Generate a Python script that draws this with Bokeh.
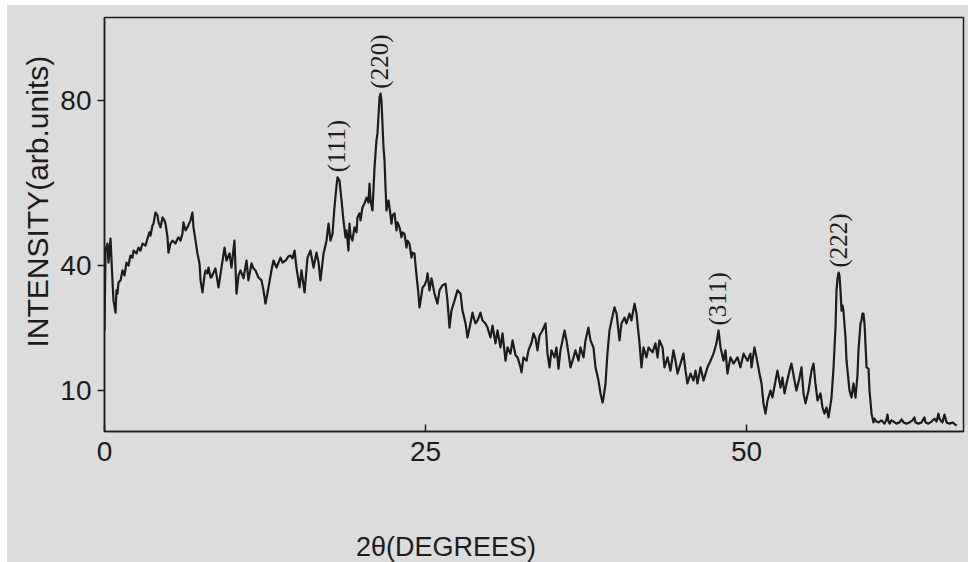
from math import pi

from bokeh.core.properties import value
from bokeh.embed import file_html
from bokeh.layouts import column, row
from bokeh.models import ColumnDataSource, FixedTicker, LabelSet, Range1d, Spacer, Title
from bokeh.plotting import figure
from bokeh.resources import INLINE

# Diffraction scan: 2-theta (degrees) and intensity (arb. units)
two_theta = [
    0.0, 0.08, 0.23, 0.31, 0.47, 0.62, 0.70, 0.86, 0.93, 1.01, 1.09, 1.25, 1.40, 1.56, 1.71, 1.87,
    2.02, 2.18, 2.26, 2.49, 2.65, 2.80, 2.96, 3.19, 3.35, 3.50, 3.58, 3.74, 3.82, 3.97, 4.13, 4.21,
    4.36, 4.52, 4.67, 4.75, 4.91, 4.98, 5.14, 5.30, 5.53, 5.69, 5.76, 5.92, 6.07, 6.15, 6.31, 6.46,
    6.70, 6.85, 6.93, 7.09, 7.24, 7.40, 7.48, 7.63, 7.79, 7.87, 8.02, 8.10, 8.26,
    8.33, 8.49, 8.64, 8.88, 9.11, 9.35, 9.50, 9.74, 9.89, 10.12, 10.28, 10.44, 10.59, 10.83, 11.06,
    11.21, 11.45, 11.60, 11.76, 11.99, 12.23, 12.38, 12.54, 12.77, 13.00, 13.16, 13.40, 13.55, 13.71,
    13.86, 14.10, 14.33, 14.49, 14.64, 14.80, 14.95, 15.19, 15.34, 15.58, 15.81, 16.04, 16.28, 16.51,
    16.67,
    16.82, 17.06, 17.29, 17.45, 17.60, 17.76, 17.91, 18.07, 18.15, 18.30, 18.46, 18.61, 18.77, 18.85,
    19.00, 19.08, 19.16, 19.31, 19.47, 19.63, 19.70, 19.86, 19.94, 20.09, 20.25, 20.41, 20.56, 20.64,
    20.72, 20.87, 21.03, 21.18, 21.26, 21.42, 21.50, 21.57, 21.73, 21.81, 21.88, 21.96, 22.12, 22.20,
    22.35, 22.43, 22.59, 22.74, 22.82, 22.98, 23.13, 23.21, 23.36, 23.52, 23.60, 23.75, 23.91, 23.99,
    24.14, 24.30, 24.45, 24.53, 24.69, 24.77, 24.92, 25.08,
    25.16, 25.31, 25.47, 25.70, 25.93, 26.09, 26.32, 26.56, 26.71, 26.87, 27.02, 27.26, 27.49, 27.73,
    27.88, 28.12, 28.27, 28.50, 28.66, 28.89, 29.05, 29.28, 29.44, 29.67, 29.83, 30.06, 30.22, 30.45,
    30.61, 30.84, 31.00, 31.23, 31.39, 31.62, 31.78, 32.01, 32.17, 32.40, 32.48, 32.63, 32.87, 33.02,
    33.26, 33.41,
    33.57, 33.72, 33.88, 34.11, 34.35, 34.50, 34.66, 34.81, 35.05, 35.20, 35.36, 35.51, 35.67, 35.83,
    35.98, 36.14, 36.29, 36.53, 36.68, 36.92, 37.07, 37.31, 37.46, 37.69, 37.85, 38.08, 38.24, 38.47,
    38.63, 38.79, 38.86, 39.02, 39.17, 39.33, 39.49, 39.72, 39.88, 40.11, 40.26, 40.50, 40.65, 40.89,
    41.04, 41.28, 41.43, 41.67, 41.82,
    41.98, 42.21, 42.37, 42.68, 42.91, 43.07, 43.22, 43.46, 43.61, 43.85, 44.08, 44.31, 44.47, 44.63,
    44.86, 45.09, 45.25, 45.40, 45.64, 45.87, 46.03, 46.18, 46.42, 46.65, 46.96, 47.20, 47.43, 47.66,
    47.82, 47.98, 48.21, 48.36, 48.52, 48.75, 48.99, 49.30, 49.53, 49.77, 50.08, 50.31,
    50.39, 50.62, 50.78, 51.01, 51.17, 51.32, 51.48, 51.64, 51.87, 52.02, 52.26, 52.41, 52.65, 52.80,
    52.96, 53.12, 53.35, 53.50, 53.74, 53.89, 54.13, 54.28, 54.44, 54.60, 54.83, 55.06, 55.22, 55.37,
    55.53, 55.76, 55.92, 56.07, 56.23, 56.39, 56.62, 56.78, 56.93, 57.01, 57.09, 57.17, 57.24, 57.32,
    57.40, 57.48, 57.55, 57.71, 57.79, 58.02, 58.18, 58.33, 58.49, 58.64, 58.72, 58.88,
    58.96, 59.03, 59.11, 59.19, 59.35, 59.50, 59.58, 59.74, 59.89, 59.97, 60.12, 60.28, 60.51, 60.75,
    60.90, 60.98, 61.06, 61.14, 61.29, 61.45, 61.68, 61.92, 62.07, 62.23, 62.46, 62.69, 62.93, 63.08,
    63.16, 63.40, 63.63, 63.86, 63.94, 64.17, 64.41, 64.64, 64.80, 64.95, 65.03, 65.19, 65.26, 65.42,
    65.58, 65.81, 66.04, 66.36,
]

intensity = [
    24.4, 43.7, 45.4, 40.8, 46.6, 36.5, 31.6, 28.7, 34.1, 33.3, 36.0, 36.5, 38.9, 37.7, 40.8, 40.1,
    42.5, 42.0, 43.7, 43.0, 44.4, 43.7, 45.4, 44.9, 46.6, 48.1, 47.3, 49.8, 50.2, 52.9, 52.2, 50.5,
    49.3, 51.7, 51.0, 50.2, 46.9, 43.2, 45.4, 46.1, 45.4, 46.6, 46.9, 46.1, 47.8, 50.5, 48.6, 49.3,
    51.0, 52.9, 49.3, 46.1, 43.0, 40.6, 36.5, 33.6, 37.7, 38.9, 38.2, 39.6, 37.2,
    37.2, 38.4, 39.4, 34.8, 39.6, 44.4, 41.3, 43.0, 39.6, 46.1, 33.3, 37.7, 38.9, 37.0, 41.3,
    36.5, 40.6, 39.4, 38.9, 37.2, 36.5, 34.1, 30.9, 34.8, 38.9, 41.3, 39.6, 40.8, 42.0,
    40.8, 41.3, 42.3, 42.5, 41.8, 43.7, 39.6, 34.8, 38.9, 33.6, 42.0, 43.7, 39.6, 43.2,
    40.8,
    36.5, 43.0, 46.1, 50.2, 46.1, 47.8, 54.1, 59.4, 61.4, 60.6, 55.8, 51.0, 46.9, 48.6,
    43.7, 50.2, 47.3, 46.1, 49.3, 48.1, 51.7, 52.7, 51.0, 54.1, 55.1, 56.5, 55.3, 59.9,
    55.8, 53.4, 63.8, 70.3, 72.0, 80.7, 81.6, 80.0, 68.6, 65.5, 59.4, 53.4, 55.8, 54.1,
    50.2, 52.2, 52.7, 48.6, 50.5, 49.3, 46.9, 48.1, 47.8, 44.4, 46.1, 45.4, 42.0, 43.2,
    43.0, 37.7, 33.3, 30.0, 33.1, 34.8, 35.3, 36.5,
    38.2, 34.1, 37.0, 33.3, 30.9, 34.1, 35.3, 35.7, 31.6, 25.1, 29.2, 31.6, 34.1, 33.3,
    29.2, 26.1, 22.7, 26.1, 28.7, 26.1, 26.8, 28.7, 26.8, 26.1, 25.1, 22.7, 25.6, 21.3,
    24.4, 20.3, 23.7, 17.1, 20.3, 18.8, 22.0, 18.4, 17.9, 15.5, 14.3, 17.9, 17.1, 19.6,
    21.5, 23.7,
    22.5, 19.6, 23.2, 24.4, 26.1, 18.8, 15.5, 19.6, 17.9, 20.3, 15.2, 19.6, 22.0, 24.4,
    22.0, 18.8, 15.5, 17.9, 19.6, 17.1, 20.3, 17.9, 22.0, 25.1, 22.0, 20.3, 15.5, 12.3,
    9.2, 7.0, 8.0, 11.6, 18.8, 24.4, 26.8, 30.0, 28.5, 22.0, 26.1, 27.5, 26.1, 28.5,
    26.8, 30.9, 28.5, 21.3, 15.5,
    20.3, 17.9, 20.3, 19.1, 21.3, 17.9, 22.0, 20.3, 15.5, 17.9, 14.7, 19.6, 17.1, 14.0,
    16.4, 18.8, 14.7, 11.6, 14.0, 12.3, 14.7, 11.6, 15.5, 12.3, 15.5, 17.1, 18.8, 21.3,
    24.4, 20.3, 17.1, 19.6, 14.0, 17.9, 16.4, 17.9, 15.5, 18.8, 17.1, 18.8,
    15.5, 20.3, 17.9, 14.0, 11.6, 6.8, 4.3, 7.5, 9.9, 8.2, 12.3, 14.7, 10.6, 13.0,
    9.2, 11.6, 14.7, 16.4, 12.3, 9.9, 13.0, 15.5, 9.2, 6.8, 9.9, 14.7, 16.4, 11.6,
    7.5, 9.2, 5.8, 4.3, 5.8, 3.4, 8.2, 15.5, 25.1, 34.1, 37.0, 38.4, 37.7, 34.1,
    29.2, 30.4, 29.2, 22.7, 17.1, 9.9, 8.2, 11.6, 8.2, 13.5, 19.6, 26.1,
    26.8, 28.5, 28.5, 26.1, 15.5, 15.2, 9.9, 4.3, 2.2, 3.1, 2.4, 2.2, 2.7, 1.9,
    2.9, 4.1, 2.4, 1.9, 2.7, 2.4, 1.9, 2.2, 2.9, 2.2, 1.9, 2.2, 2.7, 3.4,
    2.2, 1.9, 2.2, 3.4, 2.2, 1.9, 2.4, 3.1, 2.4, 4.3, 3.1, 2.4, 2.2, 4.1,
    2.2, 1.9, 2.2, 1.4,
]

# Indexed reflections
peak_hkl = ["(111)", "(220)", "(311)", "(222)"]
peak_two_theta = [18.1, 21.45, 47.75, 57.15]
peak_intensity = [61.4, 81.6, 24.4, 38.4]

x_ticks = [0, 25, 50]
y_ticks = [10, 40, 80]

x_title = "2θ(DEGREES)"
y_title = "INTENSITY(arb.units)"

PAPER = "#dcdcdc"
INK = "#1c1c1c"
FONT = "Liberation Sans"

x_range = Range1d(0, 66.9)

p = figure(
    width=961, height=520,
    x_range=x_range, y_range=Range1d(0, 100),
    output_backend="svg", toolbar_location=None,
    min_border_left=97, min_border_right=5, min_border_top=12, min_border_bottom=94,
)
p.background_fill_color = PAPER
p.border_fill_color = PAPER
p.grid.visible = False
p.outline_line_color = INK
p.outline_line_width = 1.5

p.line(two_theta, intensity, line_color=INK, line_width=2.2, line_join="round")

for ax in (p.xaxis[0], p.yaxis[0]):
    ax.axis_line_color = INK
    ax.axis_line_width = 1.5
    ax.major_tick_line_color = INK
    ax.major_tick_line_width = 1.5
    ax.minor_tick_line_color = None
    ax.major_label_text_font = FONT
    ax.major_label_text_font_size = "28px"
    ax.major_label_text_color = INK

p.xaxis.ticker = FixedTicker(ticks=x_ticks, minor_ticks=[])
p.xaxis.major_tick_in = 7
p.xaxis.major_tick_out = 0
p.xaxis.major_label_standoff = 10

p.yaxis.ticker = FixedTicker(ticks=y_ticks, minor_ticks=[])
p.yaxis.major_tick_in = 0
p.yaxis.major_tick_out = 7
p.yaxis.major_label_standoff = 6

# Reflection indices written upright above each peak
peaks = ColumnDataSource(dict(x=peak_two_theta, y=peak_intensity, hkl=peak_hkl))
p.add_layout(LabelSet(
    x="x", y="y", text="hkl", source=peaks, angle=pi / 2, y_offset=5,
    text_align="left", text_baseline="middle",
    text_font=FONT, text_font_size="25px", text_color=INK,
))

# Intensity title, set in the left panel
p.add_layout(Title(
    text=y_title, align="left", offset=84, standoff=8,
    text_font=FONT, text_font_size="30px", text_font_style="normal", text_color=INK,
), "left")

# Strip under the plot carrying the 2-theta title, sharing the x range
strip = figure(
    width=961, height=37, x_range=x_range, y_range=Range1d(0, 1),
    x_axis_type=None, y_axis_type=None,
    output_backend="svg", toolbar_location=None,
    min_border_left=97, min_border_right=5, min_border_top=0, min_border_bottom=0,
)
strip.background_fill_color = None
strip.border_fill_color = PAPER
strip.outline_line_color = None
strip.grid.visible = False
strip.text(
    x=[26.6], y=[0.42], text=[x_title],
    text_align="center", text_baseline="middle",
    text_font=value(FONT), text_font_size="27px", text_color=INK,
)

page = column(
    Spacer(width=968, height=5),
    row(
        Spacer(width=7, height=557),
        column(p, strip, styles={"background-color": PAPER}),
    ),
)
open("out.html", "w").write(file_html(page, INLINE))
